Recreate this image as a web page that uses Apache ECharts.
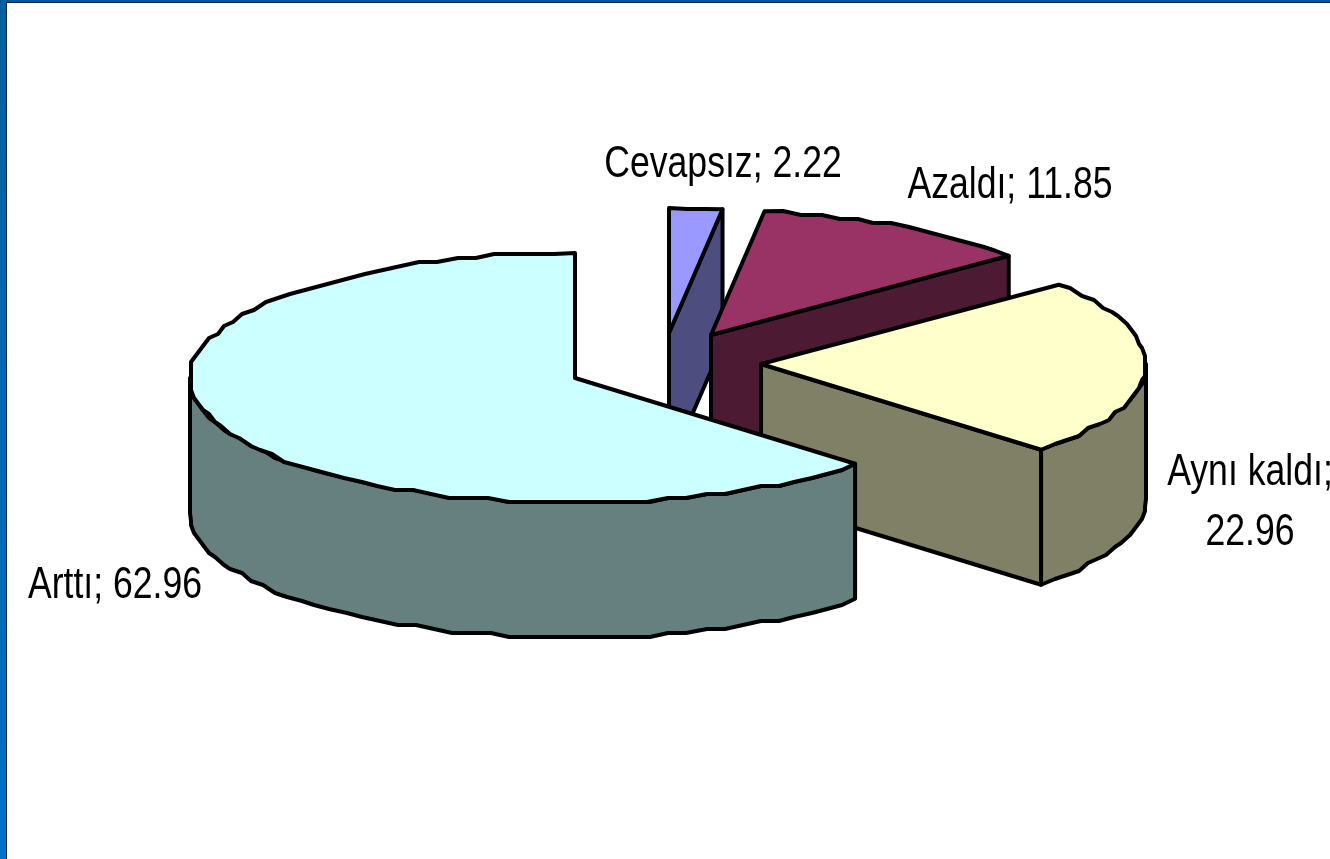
<!DOCTYPE html>
<html>
<head>
<meta charset="utf-8">
<title>Pie</title>
<style>
  html, body { margin: 0; padding: 0; background: #fff; }
  #myChart { width: 1330px; height: 859px; }
</style>
<script src="https://cdn.jsdelivr.net/npm/echarts@6/dist/echarts.min.js"></script>
</head>
<body>
<div id="myChart"></div>
<script>
// clockwise from 12 o'clock, back slices first so the front ones paint over them
const categories = ["Cevapsız", "Azaldı", "Aynı kaldı", "Arttı"];
const values = [2.22, 11.85, 22.96, 62.96];
const topColors = ["#9999FF", "#993366", "#FFFFCC", "#CCFFFF"];
const sideColors = ["#4D4D80", "#4D1A33", "#808066", "#668080"];

// layout of the fake 3d pie
const center = [575, 378];
const rx = 385;
const ry = 125;
const depth = 135;
const explode = [[94, -45], [136, -43], [186, -14], [0, 0]];
const labelPos = [[723, 165], [1010, 186], [1250, 503], [115, 586]];
const labelBreak = [" ", " ", "\n", " "];

const total = values.reduce((a, b) => a + b, 0);
const toRad = v => (v / total) * Math.PI * 2;

// the original outline is rough, so snap it to a coarse grid
function arc(cx, cy, from, to) {
  const pts = [];
  const step = (3 * Math.PI) / 180;
  const n = Math.max(1, Math.ceil((to - from) / step));
  for (let i = 0; i <= n; i++) {
    const t = from + ((to - from) * i) / n;
    let x = rx * Math.sin(t);
    let y = -ry * Math.cos(t);
    if (i > 0 && i < n) {
      x = Math.round(x / 3) * 3;
      y = Math.round(y / 4) * 4;
    }
    pts.push([cx + x, cy + y]);
  }
  return pts;
}

function face(points, fill) {
  return {
    type: "polygon",
    shape: { points: points },
    style: { fill: fill, stroke: "#000", lineWidth: 4, lineJoin: "round" }
  };
}

function renderSlice(params, api) {
  const idx = params.dataIndex;
  let from = 0;
  for (let i = 0; i < idx; i++) from += toRad(values[i]);
  const to = from + toRad(api.value(0));
  const cx = center[0] + explode[idx][0];
  const cy = center[1] + explode[idx][1];
  const children = [];

  // cut edge wall, only when it faces the viewer
  const drop = p => [p[0], p[1] + depth];
  if (to < Math.PI) {
    const outer = arc(cx, cy, to, to)[0];
    children.push(face([[cx, cy], outer, drop(outer), [cx, cy + depth]], sideColors[idx]));
  }
  // outer wall, front half of the rim only
  const a = Math.max(from, Math.PI / 2);
  const b = Math.min(to, (Math.PI * 3) / 2);
  if (b > a) {
    const rim = arc(cx, cy, a, b);
    children.push(face(rim.concat(rim.map(drop).reverse()), sideColors[idx]));
  }
  children.push(face([[cx, cy]].concat(arc(cx, cy, from, to)), topColors[idx]));

  // the label goes over everything else
  children.push({
    type: "text",
    x: labelPos[idx][0],
    y: labelPos[idx][1],
    scaleX: 0.8,
    z2: 10,
    style: {
      text: categories[idx] + ";" + labelBreak[idx] + api.value(0).toFixed(2),
      font: '44.5px "Liberation Sans"',
      lineHeight: 60,
      fill: "#000",
      align: "center",
      verticalAlign: "middle"
    }
  });
  return { type: "group", children: children };
}

const chart = echarts.init(document.getElementById("myChart"));
chart.setOption({
  backgroundColor: "#fff",
  animation: false,
  // slide frame
  graphic: [
    {
      type: "rect",
      silent: true,
      shape: { x: 0, y: 0, width: 6, height: 859 },
      style: {
        fill: {
          type: "linear", x: 0, y: 0, x2: 0, y2: 1,
          colorStops: [{ offset: 0, color: "#00619F" }, { offset: 1, color: "#0070C8" }]
        }
      }
    },
    { type: "rect", silent: true, shape: { x: 0, y: 0, width: 1330, height: 2 }, style: { fill: "#00579B" } },
    { type: "rect", silent: true, shape: { x: 6, y: 2, width: 1324, height: 1 }, style: { fill: "#0A2540" } },
    { type: "rect", silent: true, shape: { x: 6, y: 2, width: 1, height: 857 }, style: { fill: "#0A2540" } }
  ],
  series: [
    {
      type: "custom",
      coordinateSystem: "none",
      silent: true,
      renderItem: renderSlice,
      data: values.map(v => [v])
    }
  ]
});
</script>
</body>
</html>
